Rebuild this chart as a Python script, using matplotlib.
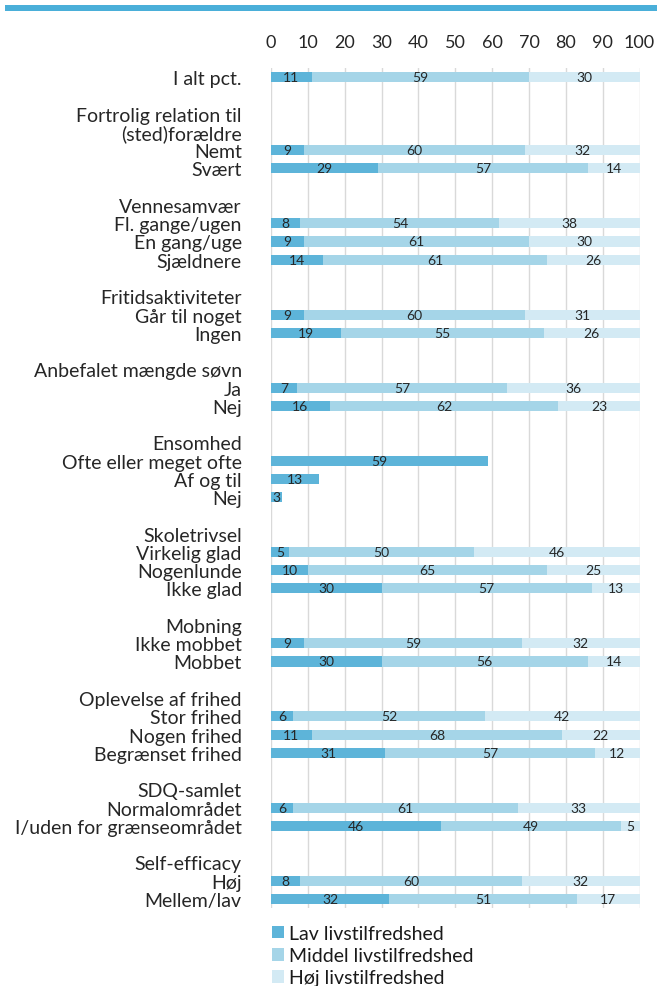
import matplotlib
matplotlib.use("Agg")
import matplotlib.pyplot as plt
from matplotlib.patches import Rectangle
import numpy as np

plt.rcParams['font.family'] = ['Lato', 'DejaVu Sans']

categories = [
    "I alt pct.", "",
    "Fortrolig relation til", "(sted)forældre", "Nemt", "Svært", "",
    "Vennesamvær", "Fl. gange/ugen", "En gang/uge", "Sjældnere", "",
    "Fritidsaktiviteter", "Går til noget", "Ingen", "",
    "Anbefalet mængde søvn", "Ja", "Nej", "",
    "Ensomhed", "Ofte eller meget ofte", "Af og til", "Nej", "",
    "Skoletrivsel", "Virkelig glad", "Nogenlunde", "Ikke glad", "",
    "Mobning", "Ikke mobbet", "Mobbet", "",
    "Oplevelse af frihed", "Stor frihed", "Nogen frihed", "Begrænset frihed", "",
    "SDQ-samlet", "Normalområdet", "I/uden for grænseområdet", "",
    "Self-efficacy", "Høj", "Mellem/lav",
]
N = np.nan
lav = [11, N, N, N, 9, 29, N, N, 8, 9, 14, N, N, 9, 19, N, N, 7, 16, N,
       N, 59, 13, 3, N, N, 5, 10, 30, N, N, 9, 30, N, N, 6, 11, 31, N,
       N, 6, 46, N, N, 8, 32]
middel = [59, N, N, N, 60, 57, N, N, 54, 61, 61, N, N, 60, 55, N, N, 57, 62, N,
          N, N, N, N, N, N, 50, 65, 57, N, N, 59, 56, N, N, 52, 68, 57, N,
          N, 61, 49, N, N, 60, 51]
hoej = [30, N, N, N, 32, 14, N, N, 38, 30, 26, N, N, 31, 26, N, N, 36, 23, N,
        N, N, N, N, N, N, 46, 25, 13, N, N, 32, 14, N, N, 42, 22, 12, N,
        N, 33, 5, N, N, 32, 17]
series_names = ["Lav livstilfredshed", "Middel livstilfredshed", "Høj livstilfredshed"]
colors = ["#5DB4D9", "#A5D5E8", "#D3EAF4"]
ticks = [0, 10, 20, 30, 40, 50, 60, 70, 80, 90, 100]

W, H = 657, 987
fig = plt.figure(figsize=(W / 100, H / 100), dpi=100)
ax = fig.add_axes([271 / W, 1 - 909 / H, (639.5 - 271) / W, (909 - 69) / H])

y = np.arange(len(categories))
left = np.zeros(len(categories))
for vals, name, c in zip([lav, middel, hoej], series_names, colors):
    v = np.array(vals, dtype=float)
    vv = np.nan_to_num(v)
    bars = ax.barh(y, vv, left=left, height=0.55, color=c, label=name, zorder=2)
    labels = ["" if np.isnan(x) else f"{int(x)}" for x in v]
    ax.bar_label(bars, labels=labels, label_type='center', fontsize=10,
                 color='#262626')
    left = left + vv

ax.set_xlim(0, 100)
ax.set_ylim(45.5, -0.5)
ax.set_xticks(ticks)
ax.xaxis.tick_top()
ax.tick_params(axis='x', length=0, pad=13, labelsize=13, labelcolor='#262626')
ax.set_yticks(y)
ax.set_yticklabels(categories)
ax.tick_params(axis='y', length=0, pad=21, labelsize=14, labelcolor='#262626')
ax.grid(axis='x', color='#D9D9D9', lw=1.0, zorder=0)
ax.set_axisbelow(True)
for s in ax.spines.values():
    s.set_visible(False)

fig.add_artist(Rectangle((5 / W, 1 - 12 / H), (W - 5) / W, 6 / H,
                         transform=fig.transFigure, color="#4AAFD9", lw=0))

handles, lbls = ax.get_legend_handles_labels()
fig.legend(handles, lbls, loc='upper left', bbox_to_anchor=(272 / W, 1 - 926 / H),
           frameon=False, fontsize=14, handlelength=0.62, handleheight=0.62,
           handletextpad=0.26, labelspacing=0.26, borderaxespad=0, borderpad=0,
           labelcolor='#1A1A1A')

fig.savefig("out.png", dpi=100)
